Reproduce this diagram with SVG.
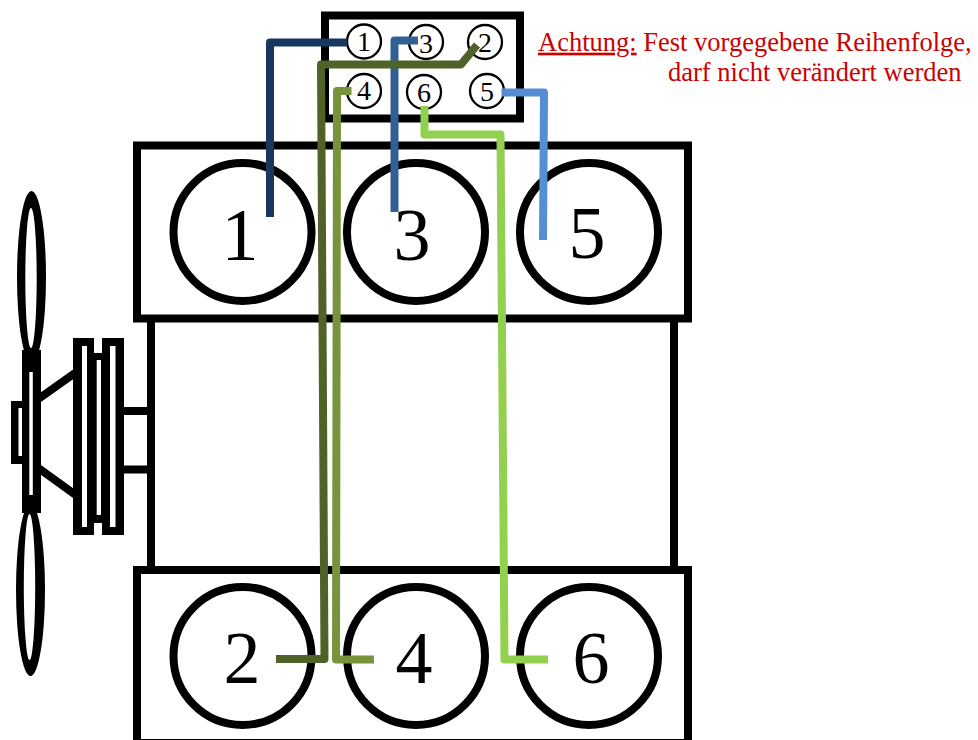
<svg xmlns="http://www.w3.org/2000/svg" width="978" height="740" viewBox="0 0 978 740">
<style>
.k{fill:#000}
.wh{fill:#fff}
.box{fill:#fff;stroke:#000;stroke-width:8}
.ln{fill:none;stroke:#000;stroke-width:8}
.cyl{fill:#fff;stroke:#000;stroke-width:8}
.pin{fill:#fff;stroke:#000;stroke-width:2.300}
.big{font:74px "Liberation Serif",serif;text-anchor:middle;fill:#000}
.sm{font:28px "Liberation Serif",serif;text-anchor:middle;fill:#000}
.note{font:26.500px "Liberation Serif",serif;fill:#cc0000}
.c{fill:none;stroke-width:8;stroke-linejoin:round}
</style>
<rect width="978" height="740" fill="#fff"/>
<g id="fan">
<ellipse class="k" cx="31.500" cy="277" rx="14.500" ry="86"/>
<ellipse class="wh" cx="31" cy="278" rx="5.700" ry="70"/>
<ellipse class="k" cx="30.500" cy="590" rx="14.500" ry="86"/>
<ellipse class="wh" cx="29.500" cy="587" rx="5.700" ry="73"/>
<rect class="k" x="11" y="401" width="12" height="63"/>
<rect class="wh" x="18.500" y="408" width="3.500" height="48"/>
<rect class="k" x="22" y="350" width="19" height="163"/>
<rect class="wh" x="29.300" y="372" width="3.500" height="123"/>
<path class="ln" d="M39 398.500L75 373M39 468.500L75 494.500"/>
</g>
<g id="pulley">
<rect class="k" x="73" y="338" width="21" height="197"/>
<rect class="wh" x="82" y="346" width="5" height="181"/>
<rect class="k" x="102" y="338" width="22" height="197"/>
<rect class="wh" x="110" y="346" width="5.500" height="181"/>
<rect class="k" x="94" y="353" width="8" height="170"/>
<rect class="wh" x="96.700" y="360" width="4.300" height="155"/>
<path class="ln" d="M124 411H150M124 469.500H150"/>
</g>
<g id="engine">
<path class="ln" d="M151 318V570M674 318V570"/>
<rect class="box" x="137" y="145.500" width="551" height="173"/>
<rect class="box" x="137" y="570" width="551" height="173"/>
</g>
<g id="cyl1"><circle class="cyl" cx="242.500" cy="232" r="69"/><text class="big" x="240" y="260">1</text></g>
<g id="cyl3"><circle class="cyl" cx="416" cy="232" r="69"/><text class="big" x="412" y="260">3</text></g>
<g id="cyl5"><circle class="cyl" cx="589" cy="232" r="69"/><text class="big" x="587" y="258">5</text></g>
<g id="cyl2"><circle class="cyl" cx="242.500" cy="656" r="69"/><text class="big" x="242" y="683">2</text></g>
<g id="cyl4"><circle class="cyl" cx="416" cy="656" r="69"/><text class="big" x="414" y="683">4</text></g>
<g id="cyl6"><circle class="cyl" cx="589" cy="656" r="69"/><text class="big" x="591" y="683">6</text></g>
<g id="connector-block">
<rect class="box" x="325" y="15.500" width="195" height="103"/>
</g>
<g id="pin1"><circle class="pin" cx="364" cy="41.500" r="17"/><text class="sm" x="364" y="51">1</text></g>
<g id="pin3"><circle class="pin" cx="426" cy="42" r="17"/><text class="sm" x="426" y="52.500">3</text></g>
<g id="pin2"><circle class="pin" cx="485" cy="42" r="17"/><text class="sm" x="485" y="52">2</text></g>
<g id="pin4"><circle class="pin" cx="364" cy="91" r="17"/><text class="sm" x="364" y="100">4</text></g>
<g id="pin6"><circle class="pin" cx="424" cy="92" r="17"/><text class="sm" x="424" y="101.500">6</text></g>
<g id="pin5"><circle class="pin" cx="487" cy="91" r="17"/><text class="sm" x="487" y="101">5</text></g>
<g id="connectors">
<path class="c" stroke="#17375e" d="M270 217V42.500H347"/>
<path class="c" stroke="#336094" d="M394.500 212V40.500H418"/>
<path class="c" stroke="#4f6228" d="M276 659H324.500L321 64.500H461L477 45"/>
<path class="c" stroke="#77933c" d="M374 659.500H336L337 91H351.500"/>
<path class="c" stroke="#92d050" d="M424.500 106V134.500H500.500L504.500 659.500H548"/>
<path class="c" stroke="#558ed5" d="M501.500 92.500H544L543 240"/>
</g>
<g id="note">
<text class="note" x="538" y="50.700"><tspan text-decoration="underline">Achtung:</tspan> Fest vorgegebene Reihenfolge,</text>
<text class="note" x="668" y="80.700">darf nicht verändert werden</text>
</g>
</svg>
